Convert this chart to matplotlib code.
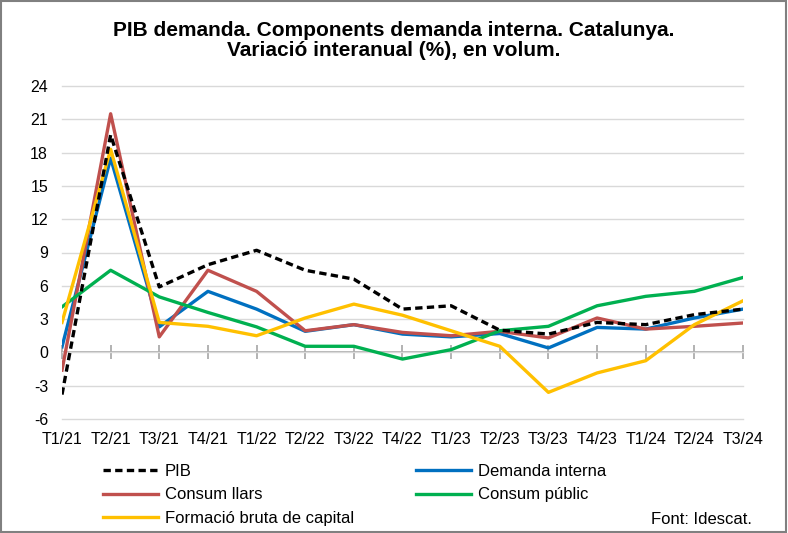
import matplotlib.pyplot as plt
from matplotlib.patches import Rectangle

plt.rcParams['font.family'] = ['Liberation Sans', 'DejaVu Sans']
plt.rcParams['axes.unicode_minus'] = False

trimestres = ['T1/21', 'T2/21', 'T3/21', 'T4/21', 'T1/22', 'T2/22', 'T3/22', 'T4/22',
              'T1/23', 'T2/23', 'T3/23', 'T4/23', 'T1/24', 'T2/24', 'T3/24']
pib = [-3.8, 19.6, 5.9, 7.9, 9.2, 7.4, 6.6, 3.9, 4.2, 2.0, 1.65, 2.7, 2.5, 3.4, 3.9]
demanda_interna = [0.5, 17.5, 2.3, 5.5, 3.9, 1.9, 2.5, 1.65, 1.4, 1.7, 0.4, 2.25, 2.1, 3.1, 3.9]
consum_llars = [-1.6, 21.5, 1.4, 7.4, 5.5, 1.95, 2.5, 1.8, 1.5, 1.9, 1.3, 3.1, 2.1, 2.35, 2.65]
consum_public = [4.1, 7.4, 5.0, 3.6, 2.3, 0.55, 0.55, -0.6, 0.25, 1.95, 2.35, 4.2, 5.05, 5.5, 6.75]
fbc = [2.7, 18.3, 2.7, 2.35, 1.5, 3.1, 4.35, 3.35, 1.95, 0.55, -3.6, -1.85, -0.75, 2.5, 4.65]

W, H = 788, 533
fig = plt.figure(figsize=(W / 100, H / 100), dpi=100)
ax = fig.add_axes([62 / W, 1 - 419 / H, (743 - 62) / W, (419 - 86) / H])

x = list(range(len(trimestres)))
lw = 2.4
l_pib, = ax.plot(x, pib, color='black', lw=lw, ls=(0, (2.2, 1.3)), zorder=5, label='PIB')
l_dem, = ax.plot(x, demanda_interna, color='#0070c0', lw=lw, label='Demanda interna')
l_ll, = ax.plot(x, consum_llars, color='#c0504d', lw=lw, label='Consum llars')
l_pub, = ax.plot(x, consum_public, color='#00b050', lw=lw, label='Consum públic')
l_fbc, = ax.plot(x, fbc, color='#ffc000', lw=lw, label='Formació bruta de capital')

ax.set_xlim(0, len(trimestres) - 1)
ax.set_ylim(-6, 24)
ax.set_yticks(range(-6, 25, 3))
ax.set_xticks(x)
ax.set_xticklabels(trimestres)
ax.tick_params(axis='both', length=0, labelsize=11.5, colors='black')
ax.tick_params(axis='y', pad=10)
ax.tick_params(axis='x', pad=9)
ax.grid(axis='y', color='#d9d9d9', lw=1)
for gl in ax.get_ygridlines():
    gl.set_clip_on(False)
ax.set_axisbelow(True)
for s in ax.spines.values():
    s.set_visible(False)

# eix horitzontal a y=0 amb marques
sec = ax.secondary_xaxis(6 / 30)
sec.set_xticks(x)
sec.set_xticklabels([])
sec.tick_params(direction='inout', length=10, color='#a6a6a6', width=1.2)
sec.spines['bottom'].set_color('#a6a6a6')
sec.spines['bottom'].set_linewidth(1.2)

fig.suptitle('PIB demanda. Components demanda interna. Catalunya.\nVariació interanual (%), en volum.',
             fontsize=15, fontweight='bold', y=1 - 21 / H, linespacing=1.05)

handles = [l_pib, l_ll, l_fbc, l_dem, l_pub]
fig.legend(handles=handles, labels=[h.get_label() for h in handles], ncol=2,
           loc='upper left', bbox_to_anchor=(103 / W, 1 - 464 / H), frameon=False,
           fontsize=12, handlelength=3.3, handletextpad=0.42, columnspacing=3.7,
           labelspacing=0.5, borderaxespad=0, borderpad=0)

fig.text(752 / W, 1 - 519 / H, 'Font: Idescat.', fontsize=12, ha='right', va='center')

fig.patches.append(Rectangle((0.001, 0.001), 0.997, 0.997, transform=fig.transFigure,
                             fill=False, edgecolor='#808080', lw=1.5))

fig.savefig('out.png', dpi=100)
